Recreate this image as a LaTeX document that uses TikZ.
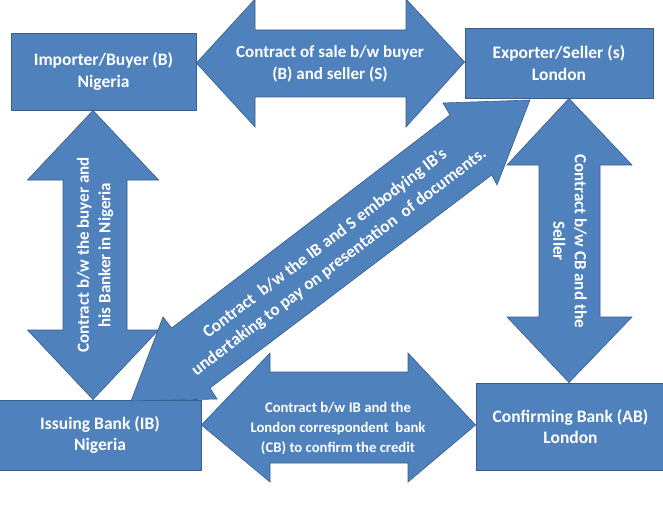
\documentclass[tikz,border=0pt]{standalone}
\usepackage{fontspec}
\setmainfont{Carlito}
\definecolor{blockfill}{RGB}{79,129,189}
\definecolor{blockline}{RGB}{56,93,138}
\begin{document}
\begin{tikzpicture}[x=1pt,y=-1pt,
  party/.style={draw=blockline,line width=0.8pt,fill=blockfill,inner sep=0pt,
    text=white,align=center,font=\bfseries\fontsize{17.5}{21.5}\selectfont},
  blockarrow/.style={draw=blockline,line width=0.6pt,fill=blockfill},
  label/.style={text=white,align=center,inner sep=0pt,
    font=\bfseries\fontsize{17}{21.5}\selectfont}]
\useasboundingbox (0,0) rectangle (663,508);
% parties
\node[party,minimum width=185pt,minimum height=77pt] (buyer) at (103.5,71.5)
  {Importer/Buyer (B)\\Nigeria};
\node[party,minimum width=188pt,minimum height=70pt] (seller) at (559,63)
  {Exporter/Seller (s)\\London};
\node[party,minimum width=202pt,minimum height=70pt] (issuing) at (100,435)
  {Issuing Bank (IB)\\Nigeria};
\node[party,minimum width=189pt,minimum height=87pt] (confirming) at (570.5,426.5)
  {Confirming Bank (AB)\\London};
% top arrow: buyer <-> seller
\draw[blockarrow] (buyer.east |- 0,63) -- (255,-1) -- (255,30) -- (406,30) -- (406,-1)
  -- (seller.west |- 0,62) -- (406,127) -- (406,97) -- (255,97) -- (255,127) -- cycle;
\node[label] (sale) at (330,64) {Contract of sale b/w buyer\\(B) and seller (S)};
% left arrow: buyer <-> issuing bank
\draw[blockarrow] (buyer.south -| 93,0) -- (158.6,180) -- (127,180) -- (127,330) -- (158.6,330)
  -- (issuing.north -| 93,0) -- (27.5,330) -- (63,330) -- (63,180) -- (27.5,180) -- cycle;
\node[label,rotate=90] (bankerc) at (95,255) {Contract b/w the buyer and\\his Banker in Nigeria};
% right arrow: seller <-> confirming bank
\draw[blockarrow] (seller.south -| 569,0) -- (632,165) -- (600,165) -- (600,317) -- (632,317)
  -- (confirming.north -| 569,0) -- (507,317) -- (539,317) -- (539,165) -- (507,165) -- cycle;
\node[label,rotate=-90] (cbseller) at (570,241) {Contract b/w CB and the\\Seller};
% bottom arrow: issuing <-> confirming
\draw[blockarrow] (issuing.east |- 0,425) -- (270,353) -- (270,372) -- (408,372) -- (408,353)
  -- (confirming.west |- 0,425) -- (408,482) -- (408,463) -- (270,463) -- (270,482) -- cycle;
\node[label,font=\bfseries\fontsize{14.7}{20}\selectfont] (confirmc) at (338,428)
  {Contract b/w IB and the\\London correspondent\ \ bank\\(CB) to confirm the credit};
% diagonal arrow: issuing <-> seller
\coordinate (diagtop) at (530,100);
\coordinate (diagbot) at (131,401);
\draw[blockarrow] (diagtop) -- (497,185) -- (491.7,175) -- (210,388) -- (217,399)
  -- (diagbot) -- (163,317) -- (171.7,328) -- (450,115) -- (443,103) -- cycle;
\node[label,rotate=37.2,font=\bfseries\fontsize{17.3}{23}\selectfont] (ibs) at (332,253)
  {Contract\ \ b/w the IB and S embodying IB's\\undertaking to pay on presentation\ \ of documents.};
\end{tikzpicture}
\end{document}
